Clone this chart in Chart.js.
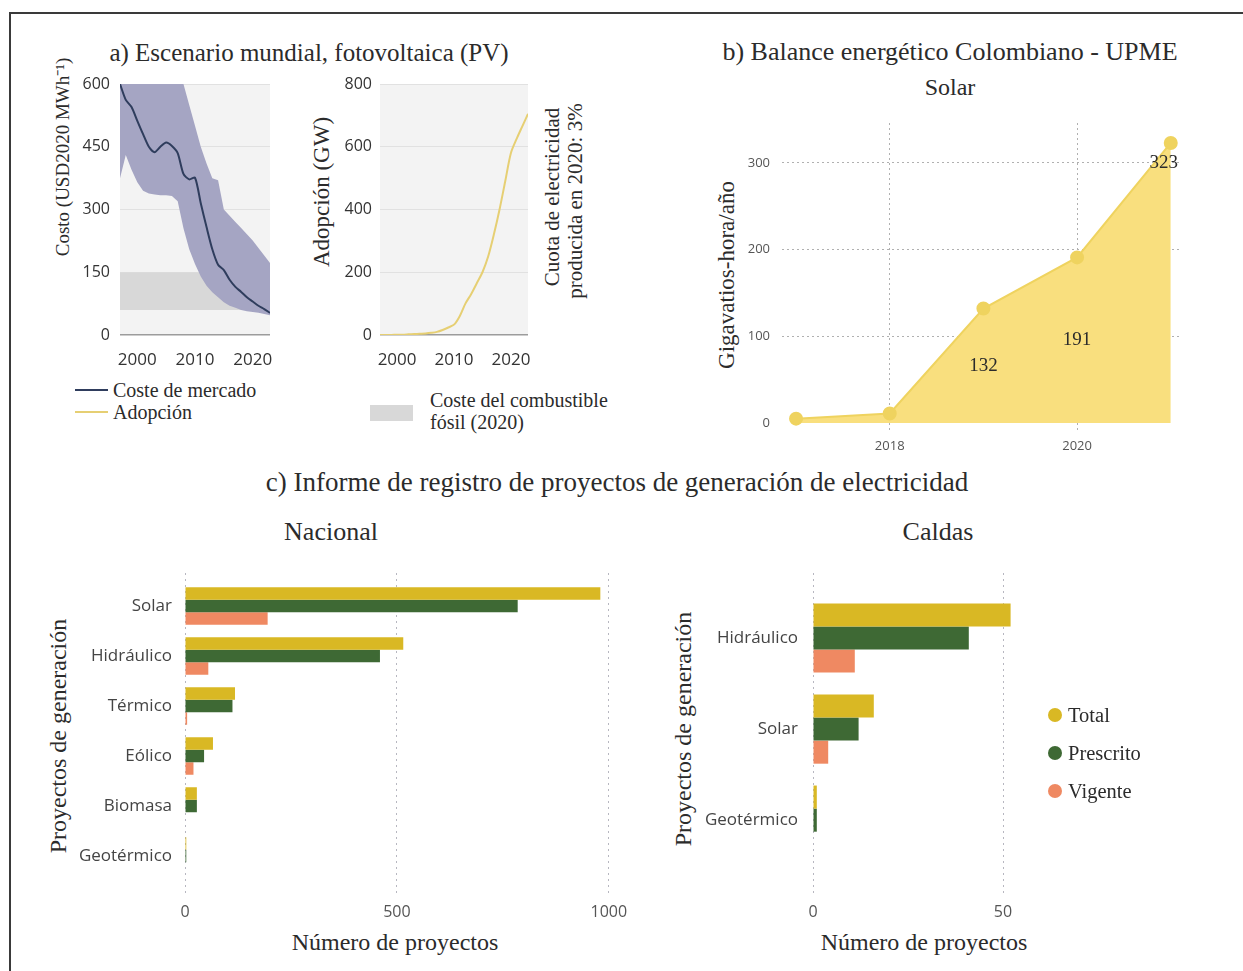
<!DOCTYPE html>
<html lang="es">
<head>
<meta charset="utf-8">
<title>Energía solar: escenario mundial, Colombia y Caldas</title>
<script src="https://cdn.jsdelivr.net/npm/chart.js@4.4.1/dist/chart.umd.min.js"></script>
<style>
  html, body { margin: 0; padding: 0; background: #fff; }
  body { position: relative; width: 1243px; height: 971px; overflow: hidden;
         font-family: "Liberation Serif", "Times New Roman", serif; color: #2b2b2b; }
  .frame { position: absolute; left: 9px; top: 12px; width: 1260px; height: 990px;
           border-top: 2px solid #3a3a3a; border-left: 2px solid #3a3a3a; }
  .txt  { position: absolute; white-space: nowrap; transform: translate(-50%, -50%); line-height: 1; }
  .vert { position: absolute; white-space: nowrap; transform: translate(-50%, -50%) rotate(-90deg); line-height: 1; }
  .left { position: absolute; white-space: nowrap; transform: translateY(-50%); line-height: 1; }
  .swatch { position: absolute; }
  canvas { position: absolute; }
</style>
</head>
<body>
<div class="frame"></div>

<!-- a) -->
<div class="txt" style="left:309px; top:52px; font-size:25px">a) Escenario mundial, fotovoltaica (PV)</div>
<div class="vert" style="left:62px; top:157px; font-size:19px">Costo (USD2020 MWh⁻¹)</div>
<div class="vert" style="left:321px; top:192px; font-size:23px">Adopción (GW)</div>
<div class="vert" style="left:552px; top:197px; font-size:21px">Cuota de electricidad</div>
<div class="vert" style="left:575px; top:201px; font-size:21px">producida en 2020: 3%</div>
<canvas id="costChart" width="210" height="300" style="left:70px; top:74px"></canvas>
<canvas id="adoptionChart" width="210" height="300" style="left:330px; top:74px"></canvas>

<div id="legendCost" class="swatch" style="left:75px; top:389px; width:33px; height:2px"></div>
<div class="left" style="left:113px; top:390px; font-size:20px">Coste de mercado</div>
<div id="legendAdoption" class="swatch" style="left:75px; top:411px; width:33px; height:2px"></div>
<div class="left" style="left:113px; top:412px; font-size:20px">Adopción</div>
<div id="legendFossil" class="swatch" style="left:370px; top:405px; width:43px; height:16px"></div>
<div class="left" style="left:430px; top:400px; font-size:20px">Coste del combustible</div>
<div class="left" style="left:430px; top:422px; font-size:20px">fósil (2020)</div>

<!-- b) -->
<div class="txt" style="left:950px; top:52px; font-size:26px">b) Balance energético Colombiano - UPME</div>
<div class="txt" style="left:950px; top:87px; font-size:24px">Solar</div>
<div class="vert" style="left:726px; top:275px; font-size:23px">Gigavatios-hora/año</div>
<canvas id="solarChart" width="460" height="350" style="left:740px; top:113px"></canvas>

<!-- c) -->
<div class="txt" style="left:617px; top:482px; font-size:27px">c) Informe de registro de proyectos de generación de electricidad</div>
<div class="txt" style="left:331px; top:532px; font-size:26px">Nacional</div>
<div class="txt" style="left:938px; top:532px; font-size:26px">Caldas</div>
<div class="vert" style="left:58px; top:736px; font-size:24px">Proyectos de generación</div>
<div class="vert" style="left:683px; top:729px; font-size:24px">Proyectos de generación</div>
<div class="txt" style="left:395px; top:942px; font-size:24px">Número de proyectos</div>
<div class="txt" style="left:924px; top:942px; font-size:24px">Número de proyectos</div>
<canvas id="nacionalChart" width="600" height="365" style="left:40px; top:563px"></canvas>
<canvas id="caldasChart" width="380" height="365" style="left:670px; top:563px"></canvas>
<div id="projectLegend"></div>

<script>
// ---- a) world photovoltaic scenario ----
const years = [1997, 1998, 1999, 2000, 2001, 2002, 2003, 2004, 2005, 2006, 2007, 2008, 2009,
               2010, 2011, 2012, 2013, 2014, 2015, 2016, 2017, 2018, 2019, 2020, 2021, 2022, 2023];
const marketCost = [600, 562, 545, 512, 480, 450, 437, 450, 460, 452, 435, 385, 372,
                    376, 315, 258, 205, 168, 155, 132, 115, 103, 90, 80, 70, 62, 53];
const costHigh = [600, 600, 600, 600, 600, 600, 600, 600, 600, 600, 600, 600, 550,
                  500, 450, 410, 375, 370, 300, 285, 270, 256, 241, 226, 208, 190, 172];
const costLow = [375, 430, 395, 365, 345, 338, 336, 334, 334, 332, 320, 255, 205,
                 170, 140, 118, 102, 90, 78, 70, 65, 60, 57, 55, 53, 50, 47];
const fossilCost2020 = [60, 150];
const adoptionGW = [0, 0, 0, 1, 1, 2, 3, 4, 5, 7, 10, 16, 24,
                    33, 60, 100, 130, 165, 200, 250, 320, 400, 490, 580, 625, 665, 705];
const yearTicks = [2000, 2010, 2020];
const costTicks = [0, 150, 300, 450, 600];
const adoptionTicks = [0, 200, 400, 600, 800];

// ---- b) Colombian energy balance, solar ----
const solarYears = [2017, 2018, 2019, 2020, 2021];
const solarGWh = [5, 11, 132, 191, 323];
const solarLabelledYears = [2019, 2020, 2021];
const solarYearTicks = [2018, 2020];
const solarValueTicks = [0, 100, 200, 300];

// ---- c) generation project registry ----
const nationalTypes = ['Solar', 'Hidráulico', 'Térmico', 'Eólico', 'Biomasa', 'Geotérmico'];
const nationalTotal = [980, 515, 118, 66, 28, 3];
const nationalPrescrito = [785, 460, 112, 45, 28, 3];
const nationalVigente = [195, 55, 5, 20, 0, 0];
const nationalTicks = [0, 500, 1000];

const caldasTypes = ['Hidráulico', 'Solar', 'Geotérmico'];
const caldasTotal = [52, 16, 1];
const caldasPrescrito = [41, 12, 1];
const caldasVigente = [11, 4, 0];
const caldasTicks = [0, 50];

const statusNames = ['Total', 'Prescrito', 'Vigente'];

const COLORS = {
  cost: '#2f3d5d',
  band: '#a5a5c3',
  fossil: '#d8d8d8',
  adoption: '#e6cf73',
  plotBg: '#f3f3f3',
  solarFill: '#f9df7e',
  solarLine: '#efd35f',
  status: ['#d9b824', '#3e6934', '#ef8962'],
};

Chart.defaults.font.family = "'Open Sans', 'DejaVu Sans', sans-serif";
Chart.defaults.color = '#3a3a3a';

const pts = (xs, ys) => xs.map((x, i) => ({ x, y: ys[i] }));
const fixTicks = values => axis => { axis.ticks = values.map(v => ({ value: v })); };
const plain = v => String(v);
// fixed axis thickness; tick labels may overhang the plot edges without shrinking it
const fitAxis = (prop, size) => s => {
  s[prop] = size;
  s.paddingTop = s.paddingBottom = s.paddingLeft = s.paddingRight = 0;
};

// light panel behind the plotting area
const plotBg = {
  id: 'plotBg',
  beforeDraw(chart, args, opts) {
    const { ctx, chartArea: a } = chart;
    ctx.save();
    ctx.fillStyle = opts.color;
    ctx.fillRect(a.left, a.top, a.width, a.height);
    ctx.restore();
  }
};

const noLine = { borderColor: 'transparent', borderWidth: 0, pointRadius: 0 };
const quiet = { legend: { display: false }, tooltip: { enabled: false } };

function panelAOptions(yTicks, yMax, yWidth, rightPad, labelPad) {
  return {
    responsive: false,
    animation: false,
    layout: { padding: { top: 10, right: rightPad, left: 0, bottom: 0 } },
    plugins: { ...quiet, plotBg: { color: COLORS.plotBg } },
    scales: {
      x: {
        type: 'linear', min: years[0], max: years[years.length - 1],
        afterBuildTicks: fixTicks(yearTicks),
        afterFit: fitAxis('height', 39),
        grid: { display: false, drawTicks: false }, border: { display: false },
        ticks: { callback: plain, autoSkip: false, maxRotation: 0, padding: 15, font: { size: 17 }, color: '#333' }
      },
      y: {
        min: 0, max: yMax,
        afterBuildTicks: fixTicks(yTicks),
        afterFit: fitAxis('width', yWidth),
        grid: {
          drawTicks: false,
          color: c => (c.tick && c.tick.value === 0) ? '#9c9c9c' : '#e1e1e1',
          lineWidth: c => (c.tick && c.tick.value === 0) ? 1.5 : 1
        },
        border: { display: false },
        ticks: { callback: plain, autoSkip: false, padding: labelPad, font: { size: 16 }, color: '#333' }
      }
    }
  };
}

const xEnds = [years[0], years[years.length - 1]];

new Chart(document.getElementById('costChart'), {
  type: 'line',
  data: {
    datasets: [
      { data: pts(years, marketCost), borderColor: COLORS.cost, borderWidth: 2, pointRadius: 0, tension: 0.25, fill: false, order: 0 },
      { data: pts(years, costHigh), ...noLine, backgroundColor: COLORS.band, fill: '+1', order: 1 },
      { data: pts(years, costLow), ...noLine, fill: false, order: 1 },
      { data: pts(xEnds, [fossilCost2020[1], fossilCost2020[1]]), ...noLine, backgroundColor: COLORS.fossil, fill: '+1', order: 2 },
      { data: pts(xEnds, [fossilCost2020[0], fossilCost2020[0]]), ...noLine, fill: false, order: 2 }
    ]
  },
  options: panelAOptions(costTicks, 600, 50, 10, 10),
  plugins: [plotBg]
});

new Chart(document.getElementById('adoptionChart'), {
  type: 'line',
  data: {
    datasets: [
      { data: pts(years, adoptionGW), borderColor: COLORS.adoption, borderWidth: 2, pointRadius: 0, tension: 0.3, fill: false }
    ]
  },
  options: panelAOptions(adoptionTicks, 800, 50, 12, 8),
  plugins: [plotBg]
});

document.getElementById('legendCost').style.background = COLORS.cost;
document.getElementById('legendAdoption').style.background = COLORS.adoption;
document.getElementById('legendFossil').style.background = COLORS.fossil;

// ---- b) ----
const solarLabels = {
  id: 'solarLabels',
  afterDatasetsDraw(chart) {
    const { ctx, scales: { x, y } } = chart;
    ctx.save();
    ctx.font = '19px "Liberation Serif", serif';
    ctx.fillStyle = '#2b2b2b';
    ctx.textAlign = 'center';
    ctx.textBaseline = 'middle';
    const last = solarYears[solarYears.length - 1];
    solarYears.forEach((yr, i) => {
      if (!solarLabelledYears.includes(yr)) return;
      const v = solarGWh[i];
      const px = x.getPixelForValue(yr);
      // inside the filled area, halfway down; the final point is labelled just under its marker
      const py = yr === last ? y.getPixelForValue(v) + 20 : y.getPixelForValue(v / 2);
      ctx.fillText(String(v), yr === last ? px - 7 : px, py);
    });
    ctx.restore();
  }
};

new Chart(document.getElementById('solarChart'), {
  type: 'line',
  data: {
    datasets: [{
      data: pts(solarYears, solarGWh),
      borderColor: COLORS.solarLine, borderWidth: 2,
      backgroundColor: COLORS.solarFill, fill: 'origin',
      pointRadius: 6, pointBackgroundColor: COLORS.solarLine, pointBorderColor: COLORS.solarLine,
      tension: 0
    }]
  },
  options: {
    responsive: false,
    animation: false,
    layout: { padding: { top: 10, right: 18, left: 0, bottom: 0 } },
    plugins: quiet,
    scales: {
      x: {
        type: 'linear', min: 2016.85, max: 2021.12,
        afterBuildTicks: fixTicks(solarYearTicks),
        afterFit: fitAxis('height', 31),
        grid: { color: '#b0b0b0', drawTicks: false },
        border: { display: false, dash: [2, 3] },
        ticks: { callback: plain, autoSkip: false, maxRotation: 0, padding: 6, font: { size: 13 }, color: '#555' }
      },
      y: {
        min: -10.4, max: 346,
        afterBuildTicks: fixTicks(solarValueTicks),
        afterFit: fitAxis('width', 42),
        grid: { color: c => (c.tick && c.tick.value === 0) ? 'transparent' : '#b0b0b0', drawTicks: false },
        border: { display: false, dash: [2, 3] },
        ticks: { callback: plain, autoSkip: false, padding: 12, font: { size: 13 }, color: '#555' }
      }
    }
  },
  plugins: [solarLabels]
});

// ---- c) ----
function projectChart(id, types, series, ticks, xMax, yPad, yWidth, rightPad, catPct, labelPad) {
  const idx = types.map((t, i) => i);
  return new Chart(document.getElementById(id), {
    type: 'bar',
    data: {
      datasets: series.map((vals, s) => ({
        label: statusNames[s],
        data: vals.map((v, i) => ({ x: v, y: idx[i] })),
        backgroundColor: COLORS.status[s],
        borderWidth: 0,
        barPercentage: 1,
        categoryPercentage: catPct
      }))
    },
    options: {
      indexAxis: 'y',
      responsive: false,
      animation: false,
      layout: { padding: { top: 10, right: rightPad, left: 0, bottom: 0 } },
      plugins: quiet,
      scales: {
        x: {
          type: 'linear', min: 0, max: xMax,
          afterBuildTicks: fixTicks(ticks),
          afterFit: fitAxis('height', 35),
          grid: { color: '#b7b7c0', drawTicks: false },
          border: { display: false, dash: [2, 4] },
          ticks: { callback: plain, autoSkip: false, maxRotation: 0, padding: 10, font: { size: 16 }, color: '#555' }
        },
        y: {
          type: 'linear', reverse: true, offset: false,
          min: -yPad[0], max: types.length - 1 + yPad[1],
          afterBuildTicks: fixTicks(idx),
          afterFit: fitAxis('width', yWidth),
          grid: { display: false, drawTicks: false },
          border: { display: false },
          ticks: { callback: v => types[v], autoSkip: false, padding: labelPad, font: { size: 17 }, color: '#444' }
        }
      }
    }
  });
}

projectChart('nacionalChart', nationalTypes,
  [nationalTotal, nationalPrescrito, nationalVigente], nationalTicks, 1050, [0.66, 0.74], 145, 10, 0.75, 13);
projectChart('caldasChart', caldasTypes,
  [caldasTotal, caldasPrescrito, caldasVigente], caldasTicks, 60, [0.714, 0.80], 143, 9, 0.76, 15);

// shared legend for the project charts
const legend = document.getElementById('projectLegend');
statusNames.forEach((name, i) => {
  const y = 715 + i * 38;
  const dot = document.createElement('div');
  dot.className = 'swatch';
  dot.style.cssText = `left:${1055 - 7}px; top:${y - 7}px; width:14px; height:14px; border-radius:50%; background:${COLORS.status[i]}`;
  legend.appendChild(dot);
  const t = document.createElement('div');
  t.className = 'left';
  t.style.cssText = `left:1068px; top:${y}px; font-size:20.5px`;
  t.textContent = name;
  legend.appendChild(t);
});
</script>
</body>
</html>
